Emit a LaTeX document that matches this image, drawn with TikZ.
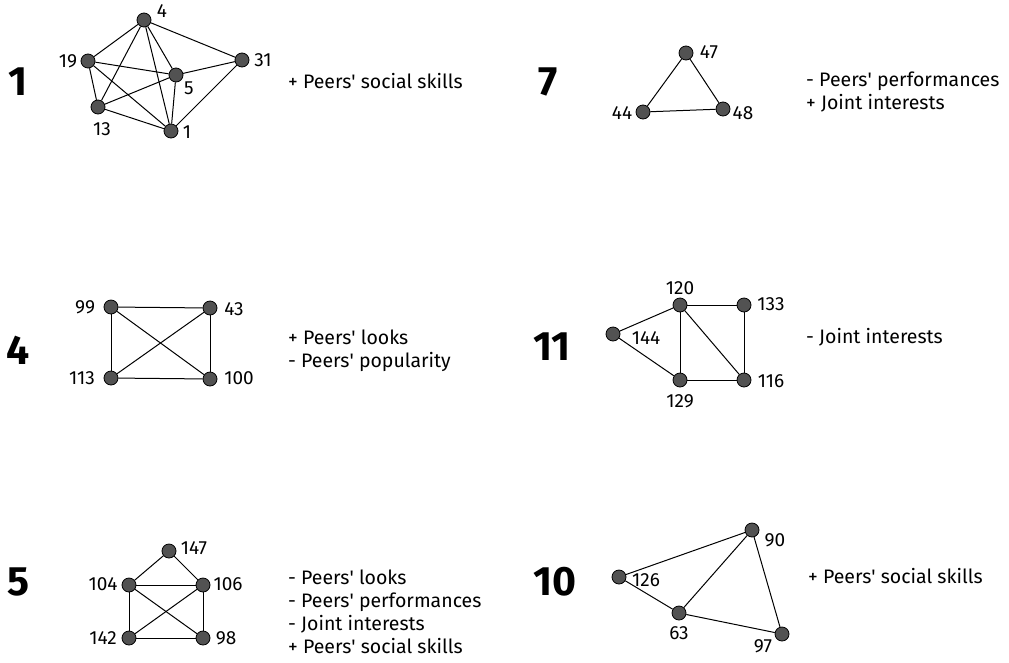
\documentclass[tikz,border=0pt]{standalone}
\usepackage{fontspec}
\setmainfont{Fira Sans}
\usetikzlibrary{positioning}
\newcommand{\apos}{\textquotesingle}
\tikzset{
  vtx/.style    = {circle, draw=black, fill=black!68, line width=0.8pt, minimum size=14pt, inner sep=0pt},
  link/.style   = {line width=1pt},
  vlbl/.style   = {font=\fontsize{19}{22}\selectfont, inner sep=0pt},
  grpnum/.style = {font=\fontsize{41}{44}\selectfont\bfseries, inner sep=0pt},
  note/.style   = {font=\fontsize{19.5}{23}\selectfont, align=left, anchor=west, inner sep=0pt},
}

\begin{document}
\begin{tikzpicture}[x=1pt, y=-1pt]
\useasboundingbox (0,0) rectangle (1009,662);

%% ---- Group 1 ----
\node[grpnum] (g1) at (18,82) {1};
\node[vtx] (n4)  at (144,20)  {};
\node[vtx] (n19) at (88,61)   {};
\node[vtx] (n5)  at (176,75)  {};
\node[vtx] (n31) at (242,60)  {};
\node[vtx] (n13) at (98,107)  {};
\node[vtx] (n1)  at (171,131) {};
\node[vlbl] (l4)  at (162,11)  {4};
\node[vlbl] (l19) at (68,61)   {19};
\node[vlbl] (l5)  at (189,88)  {5};
\node[vlbl] (l31) at (263,60)  {31};
\node[vlbl] (l13) at (102,129) {13};
\node[vlbl] (l1)  at (187,132) {1};
\foreach \a/\b in {4/19, 4/13, 4/5, 4/1, 4/31, 19/5, 19/13, 19/1, 5/31, 5/13, 5/1, 13/1, 31/1}
  \draw[link] (n\a) -- (n\b);
\node[note] (t1) at (288,81) {+ Peers\apos{} social skills};

%% ---- Group 7 ----
\node[grpnum] (g7) at (548,82) {7};
\node[vtx] (n47) at (686,53)  {};
\node[vtx] (n44) at (643,112) {};
\node[vtx] (n48) at (723,109) {};
\node[vlbl] (l47) at (709,52)  {47};
\node[vlbl] (l44) at (622,113) {44};
\node[vlbl] (l48) at (743,113) {48};
\draw[link] (n47) -- (n44) -- (n48) -- (n47);
\node[note] (t7) at (806,92) {- Peers\apos{} performances\\+ Joint interests};

%% ---- Group 4 ----
\node[grpnum] (g4) at (18,350) {4};
\node[vtx] (n99)  at (111,307) {};
\node[vtx] (n43)  at (210,308) {};
\node[vtx] (n113) at (111,378) {};
\node[vtx] (n100) at (210,379) {};
\node[vlbl] (l99)  at (85,307)  {99};
\node[vlbl] (l43)  at (234,309) {43};
\node[vlbl] (l113) at (82,378)  {113};
\node[vlbl] (l100) at (239,378) {100};
\foreach \a/\b in {99/43, 99/113, 99/100, 43/113, 43/100, 113/100}
  \draw[link] (n\a) -- (n\b);
\node[note] (t4) at (288,351) {+ Peers\apos{} looks\\- Peers\apos{} popularity};

%% ---- Group 11 ----
\node[grpnum] (g11) at (552,347) {11};
\node[vtx] (n120) at (680,305) {};
\node[vtx] (n133) at (744,305) {};
\node[vtx] (n144) at (613,334) {};
\node[vtx] (n129) at (680,380) {};
\node[vtx] (n116) at (744,380) {};
\node[vlbl] (l120) at (680,288) {120};
\node[vlbl] (l133) at (771,304) {133};
\node[vlbl] (l144) at (646,338) {144};
\node[vlbl] (l129) at (680,401) {129};
\node[vlbl] (l116) at (771,381) {116};
\foreach \a/\b in {144/120, 144/129, 120/133, 120/129, 120/116, 133/116, 129/116}
  \draw[link] (n\a) -- (n\b);
\node[note] (t11) at (806,337) {- Joint interests};

%% ---- Group 5 ----
\node[grpnum] (g5) at (18,582) {5};
\node[vtx] (n147) at (169,551) {};
\node[vtx] (n104) at (129,585) {};
\node[vtx] (n106) at (203,585) {};
\node[vtx] (n142) at (129,638) {};
\node[vtx] (n98)  at (203,638) {};
\node[vlbl] (l147) at (194,548) {147};
\node[vlbl] (l104) at (103,584) {104};
\node[vlbl] (l106) at (228,584) {106};
\node[vlbl] (l142) at (103,638) {142};
\node[vlbl] (l98)  at (226,638) {98};
\foreach \a/\b in {147/104, 147/106, 104/106, 104/142, 104/98, 106/142, 106/98, 142/98}
  \draw[link] (n\a) -- (n\b);
\node[note] (t5) at (288,612) {- Peers\apos{} looks\\- Peers\apos{} performances\\- Joint interests\\+ Peers\apos{} social skills};

%% ---- Group 10 ----
\node[grpnum] (g10) at (555,582) {10};
\node[vtx] (n90)  at (752,530) {};
\node[vtx] (n126) at (619,577) {};
\node[vtx] (n63)  at (679,613) {};
\node[vtx] (n97)  at (782,634) {};
\node[vlbl] (l90)  at (775,540) {90};
\node[vlbl] (l126) at (646,580) {126};
\node[vlbl] (l63)  at (679,633) {63};
\node[vlbl] (l97)  at (763,646) {97};
\foreach \a/\b in {126/90, 126/63, 63/90, 63/97, 90/97}
  \draw[link] (n\a) -- (n\b);
\node[note] (t10) at (808,576) {+ Peers\apos{} social skills};

\end{tikzpicture}
\end{document}
